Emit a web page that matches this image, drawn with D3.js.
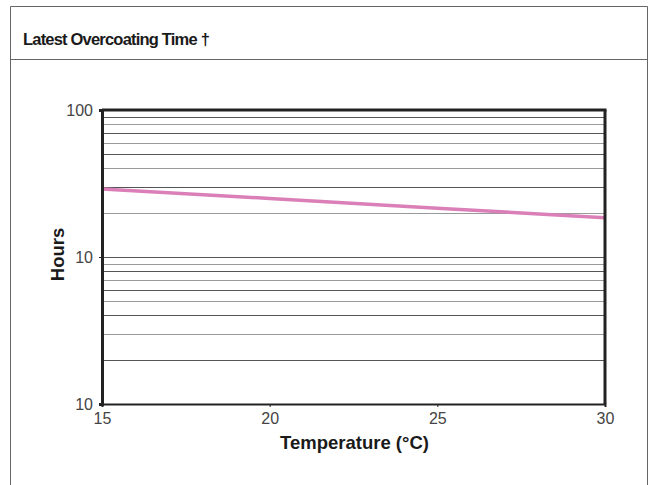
<!DOCTYPE html>
<html>
<head>
<meta charset="utf-8">
<script src="https://cdn.jsdelivr.net/npm/d3@7"></script>
<style>
  body { margin: 0; background: #fff; }
  text { font-family: "Liberation Sans", Arial, sans-serif; }
</style>
</head>
<body>
<div id="viz"></div>
<script>
const w = 652;
const h = 485;

// data
const temps = [15, 20, 25, 30];
const hours = [29, 25, 21.5, 18.5];
const xTicks = [15, 20, 25, 30];
const yTicks = [100, 10, 1];
const yTickLabels = ['100', '10', '10'];   // bottom one really says 10 in the original
const yGrid = [2, 3, 4, 5, 6, 7, 8, 9, 10, 20, 30, 40, 50, 60, 70, 80, 90];

const svg = d3.select('#viz').append('svg')
    .attr('width', w)
    .attr('height', h)

// outer frame + header
let frame = svg.append('g')
    .attr('stroke', '#666')
    .attr('stroke-width', 1)
frame.append('line').attr('x1', 10.5).attr('x2', 647.5).attr('y1', 6.5).attr('y2', 6.5)
frame.append('line').attr('x1', 10.5).attr('x2', 10.5).attr('y1', 6.5).attr('y2', h)
frame.append('line').attr('x1', 647.5).attr('x2', 647.5).attr('y1', 6.5).attr('y2', h)
frame.append('line').attr('x1', 10.5).attr('x2', 647.5).attr('y1', 59.5).attr('y2', 59.5)

svg.append('text')
    .attr('x', 23)
    .attr('y', 45)
    .attr('font-size', 16.5)
    .attr('font-weight', 'bold')
    .attr('fill', '#1a1a1a')
    .attr('letter-spacing', -0.8)
    .text('Latest Overcoating Time †')

// plot area
const pLeft = 102, pRight = 605, pTop = 110, pBottom = 404;

const x = d3.scaleLinear().domain([15, 30]).range([pLeft, pRight])
const y = d3.scaleLog().domain([1, 100]).range([pBottom, pTop])

let grid = svg.append('g')
grid.selectAll('line').data(yGrid).join('line')
    .attr('x1', pLeft)
    .attr('x2', pRight)
    .attr('y1', d => Math.round(y(d)) + 0.5)
    .attr('y2', d => Math.round(y(d)) + 0.5)
    .attr('stroke', (d, i) => i % 2 ? '#9a9a9a' : '#555')
    .attr('stroke-width', 1.2)

// series
let line = d3.line()
    .x((d, i) => x(temps[i]))
    .y(d => y(d))

svg.append('path')
    .datum(hours)
    .attr('d', line)
    .attr('fill', 'none')
    .attr('stroke', '#db7fb8')
    .attr('stroke-width', 3.5)

// axes
let xAxis = svg.append('g')
    .attr('transform', `translate(0,${pBottom})`)
    .call(d3.axisBottom(x).tickValues(xTicks).tickSize(3).tickPadding(6))
xAxis.select('.domain').attr('stroke', '#222').attr('stroke-width', 2)
xAxis.selectAll('.tick line').attr('stroke', '#222')
xAxis.selectAll('text').attr('font-size', 16).attr('fill', '#444')

let yAxis = svg.append('g')
    .attr('transform', `translate(${pLeft},0)`)
    .call(d3.axisLeft(y).tickValues(yTicks).tickFormat((d, i) => yTickLabels[i]).tickSize(3).tickPadding(6))
yAxis.select('.domain').attr('stroke', '#222').attr('stroke-width', 3)
yAxis.selectAll('.tick line').attr('stroke', '#222')
yAxis.selectAll('text').attr('font-size', 16).attr('fill', '#444')

// top & right border
svg.append('line').attr('x1', pLeft).attr('x2', pRight + 1.5).attr('y1', pTop).attr('y2', pTop)
    .attr('stroke', '#222').attr('stroke-width', 3)
svg.append('line').attr('x1', pRight).attr('x2', pRight).attr('y1', pTop).attr('y2', pBottom)
    .attr('stroke', '#222').attr('stroke-width', 3)

// axis titles
svg.append('text')
    .attr('x', (pLeft + pRight) / 2 + 1)
    .attr('y', 449)
    .attr('text-anchor', 'middle')
    .attr('font-size', 18.5)
    .attr('font-weight', 'bold')
    .attr('fill', '#1a1a1a')
    .text('Temperature (°C)')

svg.append('text')
    .attr('transform', `translate(63.5,254.5) rotate(-90)`)
    .attr('text-anchor', 'middle')
    .attr('font-size', 18.5)
    .attr('font-weight', 'bold')
    .attr('fill', '#1a1a1a')
    .text('Hours')
</script>
</body>
</html>
